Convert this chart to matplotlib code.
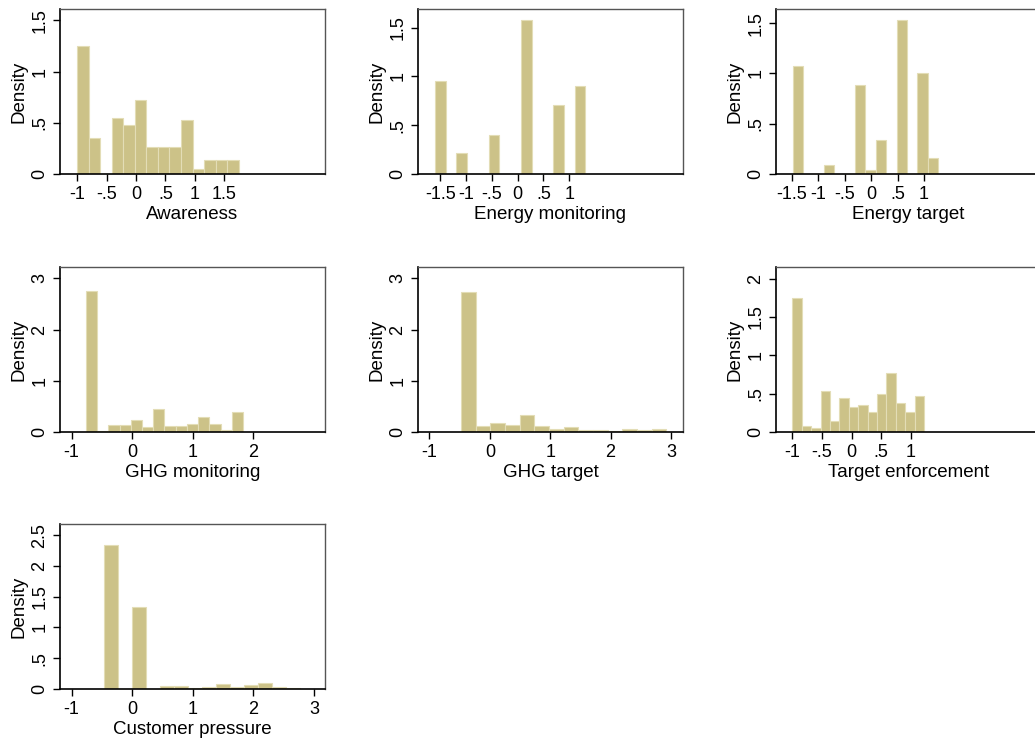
import matplotlib
matplotlib.use("Agg")
import matplotlib.pyplot as plt
import numpy as np

plt.rcParams["font.family"] = ["Liberation Sans", "DejaVu Sans"]

# ---------------------- Data (histogram densities) ----------------------
titles = [
    "Awareness", "Energy monitoring", "Energy target",
    "GHG monitoring", "GHG target", "Target enforcement",
    "Customer pressure",
]

# first bin edge and bin width of each histogram
bin_start = [-1.0, -1.61, -1.48, -0.763, -0.477, -1.0, -0.468]
bin_width = [0.196, 0.209, 0.196, 0.185, 0.243, 0.159, 0.2307]

awareness = [1.245, 0.356, 0, 0.55, 0.477, 0.722, 0.261, 0.261, 0.261,
             0.526, 0.046, 0.137, 0.137, 0.137]
energy_monitoring = [0.952, 0, 0.219, 0, 0, 0.397, 0, 0, 1.575, 0, 0,
                     0.709, 0, 0.904]
energy_target = [1.074, 0, 0, 0.093, 0, 0, 0.881, 0.043, 0.333, 0, 1.53,
                 0, 1.0, 0.163]
ghg_monitoring = [2.75, 0.012, 0.13, 0.13, 0.23, 0.09, 0.44, 0.11, 0.11,
                  0.15, 0.30, 0.15, 0.03, 0.40]
ghg_target = [2.74, 0.12, 0.18, 0.14, 0.33, 0.12, 0.05, 0.10, 0.03, 0.03,
              0.01, 0.05, 0.03, 0.05]
target_enforcement = [1.74, 0.08, 0.05, 0.53, 0.14, 0.44, 0.32, 0.35, 0.26,
                      0.49, 0.77, 0.38, 0.26, 0.47]
customer_pressure = [2.34, 0, 1.33, 0, 0.043, 0.043, 0.02, 0.04, 0.076,
                     0.04, 0.065, 0.09, 0.04, 0.016]

densities = [awareness, energy_monitoring, energy_target, ghg_monitoring,
             ghg_target, target_enforcement, customer_pressure]

# axis ranges and tick labels (Stata style, no leading zero)
x_left = [-1.29, -1.935, -1.797, -1.19, -1.19, -1.276, -1.19]
x_right = [3.21, 3.21, 3.21, 3.18, 3.2, 3.2, 3.18]
y_top = [1.61, 1.69, 1.64, 3.22, 3.22, 2.15, 2.68]

x_ticks = [
    [-1, -0.5, 0, 0.5, 1, 1.5],
    [-1.5, -1, -0.5, 0, 0.5, 1],
    [-1.5, -1, -0.5, 0, 0.5, 1],
    [-1, 0, 1, 2],
    [-1, 0, 1, 2, 3],
    [-1, -0.5, 0, 0.5, 1],
    [-1, 0, 1, 2, 3],
]
x_ticklabels = [
    ["-1", "-.5", "0", ".5", "1", "1.5"],
    ["-1.5", "-1", "-.5", "0", ".5", "1"],
    ["-1.5", "-1", "-.5", "0", ".5", "1"],
    ["-1", "0", "1", "2"],
    ["-1", "0", "1", "2", "3"],
    ["-1", "-.5", "0", ".5", "1"],
    ["-1", "0", "1", "2", "3"],
]
y_ticks = [
    [0, 0.5, 1, 1.5],
    [0, 0.5, 1, 1.5],
    [0, 0.5, 1, 1.5],
    [0, 1, 2, 3],
    [0, 1, 2, 3],
    [0, 0.5, 1, 1.5, 2],
    [0, 0.5, 1, 1.5, 2, 2.5],
]
y_ticklabels = [
    ["0", ".5", "1", "1.5"],
    ["0", ".5", "1", "1.5"],
    ["0", ".5", "1", "1.5"],
    ["0", "1", "2", "3"],
    ["0", "1", "2", "3"],
    ["0", ".5", "1", "1.5", "2"],
    ["0", ".5", "1", "1.5", "2", "2.5"],
]

# ---------------------- Layout (pixels) ----------------------
W, H = 1035, 742
col_left = [60, 418, 776]
row_top = [9, 267, 524]
ax_w, ax_h = 265, 165

fill = "#ccc288"
edge = "#e3ddb6"

fig = plt.figure(figsize=(W / 100, H / 100), dpi=100)

for i in range(7):
    r, c = divmod(i, 3)
    left = col_left[c] / W
    bottom = (H - row_top[r] - ax_h) / H
    ax = fig.add_axes([left, bottom, ax_w / W, ax_h / H])

    edges = bin_start[i] + bin_width[i] * np.arange(len(densities[i]))
    ax.bar(edges, densities[i], width=bin_width[i], align="edge",
           color=fill, edgecolor=edge, linewidth=0.8, zorder=2)

    ax.set_xlim(x_left[i], x_right[i])
    ax.set_ylim(0, y_top[i])
    ax.set_xticks(x_ticks[i])
    ax.set_xticklabels(x_ticklabels[i])
    ax.set_yticks(y_ticks[i])
    ax.set_yticklabels(y_ticklabels[i], rotation=90, va="center")

    ax.set_xlabel(titles[i], fontsize=13.5, labelpad=2)
    ax.set_ylabel("Density", fontsize=13.5, labelpad=3)
    ax.tick_params(labelsize=13, length=5, width=1, pad=3.5,
                   direction="out", color="black")

    for side in ["left", "bottom"]:
        ax.spines[side].set_color("black")
        ax.spines[side].set_linewidth(1.2)
    for side in ["top", "right"]:
        ax.spines[side].set_color("#555555")
        ax.spines[side].set_linewidth(1.0)

fig.savefig("out.png", dpi=100)
